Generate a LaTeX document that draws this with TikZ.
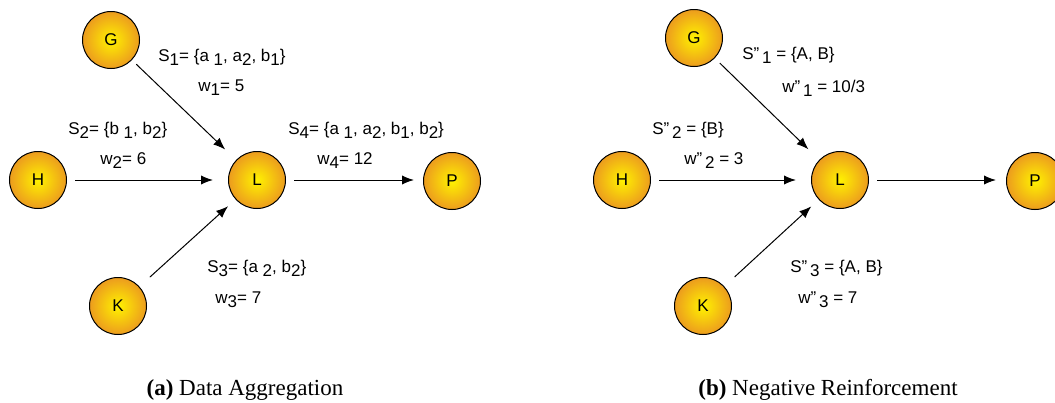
\documentclass[tikz,border=0pt]{standalone}
\usepackage{fontspec}
\setmainfont{Liberation Serif}
\newfontfamily\lblfont{Liberation Sans}
\usetikzlibrary{arrows.meta}
\usetikzlibrary{positioning}
\usepackage{xcolor}
\definecolor{ballin}{RGB}{255,242,0}
\definecolor{ballout}{RGB}{236,156,30}
\newcommand{\lo}[1]{\raisebox{-0.45ex}{#1}}

\tikzset{
  peer/.style={circle, draw=black, line width=0.5pt, inner color=ballin, outer color=ballout,
    minimum size=28.5pt, inner sep=0pt, font=\lblfont\fontsize{8.5}{10}\selectfont},
  link/.style={-{Latex[length=6pt,width=4.6pt]}, line width=0.5pt, shorten <=4pt, shorten >=7.5pt},
  wlabel/.style={anchor=west, inner sep=0pt, font=\lblfont\fontsize{8.5}{10}\selectfont},
  subcap/.style={inner sep=0pt, font=\fontsize{11.5}{14}\selectfont}
}

\begin{document}
\begin{tikzpicture}[x=0.5pt, y=-0.5pt]
  \useasboundingbox (0,0) rectangle (1055,402);

  % (a) data aggregation
  \node[peer] (g1) at (111,40) {G};
  \node[peer] (h1) at (38,180) {H};
  \node[peer] (l1) at (257,180) {L};
  \node[peer] (p1) at (452,181) {P};
  \node[peer] (k1) at (118,306) {K};

  \draw[link, shorten <=3pt] (g1) -- (l1);
  \draw[link] (h1) -- (l1);
  \draw[link, shorten >=4.5pt] (l1) -- (p1.west |- l1);
  \draw[link, shorten <=7pt, shorten >=5pt] (k1) -- (l1);

  \node[wlabel] (s1) at (158,57) {S\lo{1}= \{a \lo{1}, a\lo{2}, b\lo{1}\}};
  \node[wlabel] (w1) at (198,88) {w\lo{1}= 5};
  \node[wlabel] (s2) at (68,130) {S\lo{2}= \{b \lo{1}, b\lo{2}\}};
  \node[wlabel] (w2) at (100,161) {w\lo{2}= 6};
  \node[wlabel] (s4) at (288,130) {S\lo{4}= \{a \lo{1}, a\lo{2}, b\lo{1}, b\lo{2}\}};
  \node[wlabel] (w4) at (317,161) {w\lo{4}= 12};
  \node[wlabel] (s3) at (207,268) {S\lo{3}= \{a \lo{2}, b\lo{2}\}};
  \node[wlabel] (w3) at (215,300) {w\lo{3}= 7};

  \node[subcap] (capa) at (245,390) {\textbf{(a)} Data Aggregation};

  % (b) negative reinforcement
  \node[peer] (g2) at (694,38) {G};
  \node[peer] (h2) at (622,180) {H};
  \node[peer] (l2) at (840,180) {L};
  \node[peer] (p2) at (1035,181) {P};
  \node[peer] (k2) at (703,306) {K};

  \draw[link, shorten <=3.5pt] (g2) -- (l2);
  \draw[link] (h2) -- (l2);
  \draw[link, shorten >=5pt] (l2) -- (p2.west |- l2);
  \draw[link, shorten <=7pt, shorten >=5pt] (k2) -- (l2);

  \node[wlabel] (s21) at (742,55) {S”\,\lo{1} = \{A, B\}};
  \node[wlabel] (w21) at (782,88) {w”\,\lo{1} = 10/3};
  \node[wlabel] (s22) at (652,130) {S”\,\lo{2} = \{B\}};
  \node[wlabel] (w22) at (684,161) {w”\,\lo{2} = 3};
  \node[wlabel] (s23) at (790,268) {S”\,\lo{3} = \{A, B\}};
  \node[wlabel] (w23) at (798,300) {w”\,\lo{3} = 7};

  \node[subcap] (capb) at (828,390) {\textbf{(b)} Negative Reinforcement};
\end{tikzpicture}
\end{document}
